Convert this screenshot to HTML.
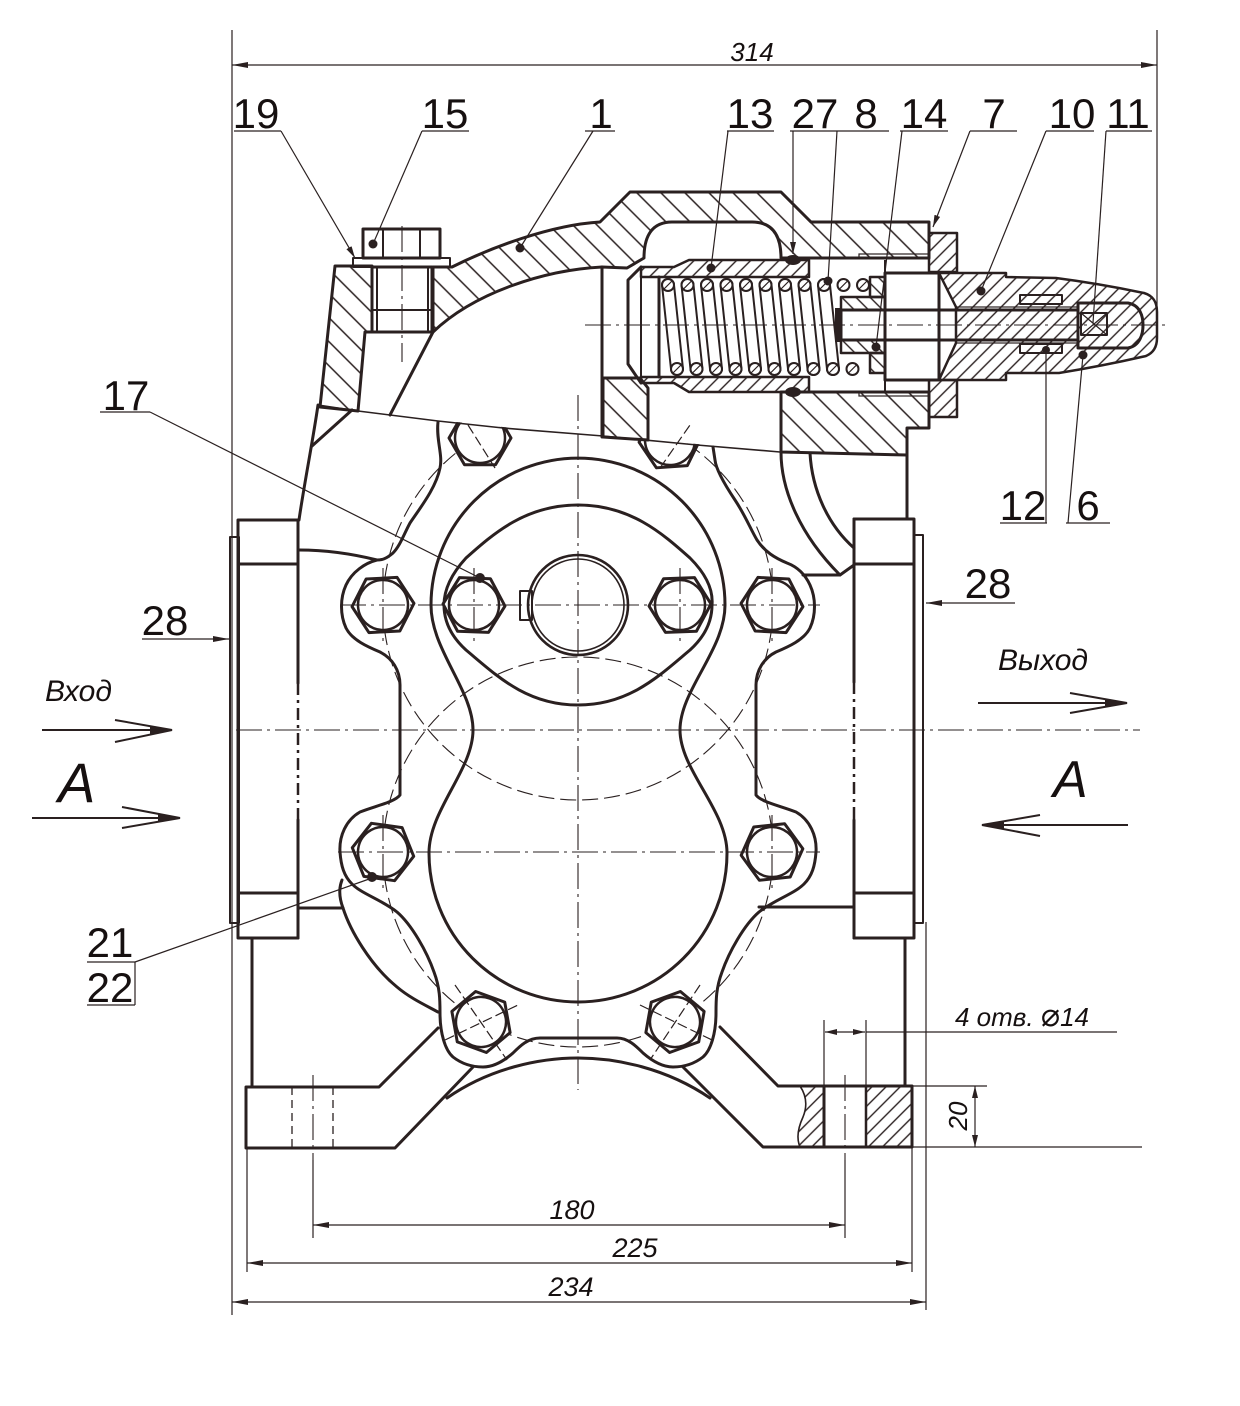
<!DOCTYPE html>
<html><head><meta charset="utf-8">
<style>
html,body{margin:0;padding:0;background:#fff;width:1240px;height:1406px;overflow:hidden}
svg{display:block}
.t{font-family:"Liberation Sans","DejaVu Sans",sans-serif;fill:#161010}
.i{font-style:italic}
.k{stroke:#2a2020;stroke-width:3;fill:none;stroke-linejoin:round;stroke-linecap:round}
.m{stroke:#2a2020;stroke-width:2;fill:none;stroke-linejoin:round}
.n{stroke:#2a2020;stroke-width:1.2;fill:none}
.c{stroke:#2a2020;stroke-width:1.1;fill:none;stroke-dasharray:26 5 3 5}
.d{stroke:#2a2020;stroke-width:1.1;fill:none;stroke-dasharray:16 6}
.hb{fill:url(#hb);stroke:#2a2020;stroke-width:3;stroke-linejoin:round}
.hs{fill:url(#hs);stroke:#2a2020;stroke-width:2.5;stroke-linejoin:round}
.hs2{fill:url(#hs2);stroke:#2a2020;stroke-width:2.5;stroke-linejoin:round}
.dot{fill:#2a2020}
</style></head><body>
<svg width="1240" height="1406" viewBox="0 0 1240 1406" xmlns="http://www.w3.org/2000/svg">
<defs>
 <pattern id="hb" width="17" height="17" patternUnits="userSpaceOnUse" patternTransform="rotate(-45)"><line x1="8" y1="-2" x2="8" y2="19" stroke="#2a2020" stroke-width="1.5"/></pattern>
 <pattern id="hs" width="10" height="10" patternUnits="userSpaceOnUse" patternTransform="rotate(45)"><line x1="5" y1="-2" x2="5" y2="12" stroke="#2a2020" stroke-width="1.4"/></pattern>
 <pattern id="hs2" width="10" height="10" patternUnits="userSpaceOnUse" patternTransform="rotate(-45)"><line x1="5" y1="-2" x2="5" y2="12" stroke="#2a2020" stroke-width="1.4"/></pattern>
 <marker id="ar" viewBox="0 0 16 6" refX="16" refY="3" markerWidth="16" markerHeight="6" orient="auto-start-reverse" markerUnits="userSpaceOnUse"><path d="M0,0 L16,3 L0,6 Z" fill="#2a2020"/></marker>
 <marker id="ar2" viewBox="0 0 12 6" refX="12" refY="3" markerWidth="12" markerHeight="6" orient="auto-start-reverse" markerUnits="userSpaceOnUse"><path d="M0,0 L12,3 L0,6 Z" fill="#2a2020"/></marker>
 <clipPath id="belowcut"><path d="M200,404 L318,404 L358,410 L438,420 L503,427 L603,435 L697,444 L780,451 L907,454 L1240,454 L1240,1406 L200,1406 Z"/></clipPath>
 <g id="bolt"><polygon points="31,0 15.5,26.8 -15.5,26.8 -31,0 -15.5,-26.8 15.5,-26.8" fill="#fff" stroke="#2a2020" stroke-width="3" stroke-linejoin="round"/><circle r="25" fill="none" stroke="#2a2020" stroke-width="2.5"/></g>
 <path id="coil" d="M-6,0 L3,84 A6,6 0 0 0 15,84 L6,0 A6,6 0 0 0 -6,0 Z" fill="none" stroke="#2a2020" stroke-width="2"/>
 <g id="wire"><circle r="6" fill="#fff" stroke="#2a2020" stroke-width="2"/><line x1="-4" y1="4" x2="4" y2="-4" stroke="#2a2020" stroke-width="1.2"/></g>
</defs>

<!-- ===== Dimension / extension lines ===== -->
<line x1="232" y1="30" x2="232" y2="1315" class="n"/>
<line x1="1157" y1="30" x2="1157" y2="330" class="n"/>
<line x1="232" y1="65" x2="1157" y2="65" class="n" marker-start="url(#ar)" marker-end="url(#ar)"/>
<text x="752" y="61" class="t i" font-size="26" text-anchor="middle">314</text>

<line x1="313" y1="1160" x2="313" y2="1238" class="n"/>
<line x1="845" y1="1160" x2="845" y2="1238" class="n"/>
<line x1="313" y1="1225" x2="845" y2="1225" class="n" marker-start="url(#ar)" marker-end="url(#ar)"/>
<text x="572" y="1219" class="t i" font-size="27" text-anchor="middle">180</text>
<line x1="247" y1="1148" x2="247" y2="1272" class="n"/>
<line x1="912" y1="1147" x2="912" y2="1272" class="n"/>
<line x1="247" y1="1263" x2="912" y2="1263" class="n" marker-start="url(#ar)" marker-end="url(#ar)"/>
<text x="635" y="1257" class="t i" font-size="27" text-anchor="middle">225</text>
<line x1="926" y1="922" x2="926" y2="1310" class="n"/>
<line x1="232" y1="1302" x2="926" y2="1302" class="n" marker-start="url(#ar)" marker-end="url(#ar)"/>
<text x="571" y="1296" class="t i" font-size="27" text-anchor="middle">234</text>

<!-- 20 dim -->
<line x1="912" y1="1086" x2="987" y2="1086" class="n"/>
<line x1="912" y1="1147" x2="1142" y2="1147" class="n"/>
<line x1="975" y1="1086" x2="975" y2="1147" class="n" marker-start="url(#ar2)" marker-end="url(#ar2)"/>
<text x="0" y="0" class="t i" font-size="26" text-anchor="middle" transform="translate(967,1116) rotate(-90)">20</text>
<!-- 4 holes dim -->
<line x1="824" y1="1020" x2="824" y2="1086" class="n"/>
<line x1="866" y1="1020" x2="866" y2="1086" class="n"/>
<line x1="825" y1="1032" x2="865" y2="1032" class="n" marker-start="url(#ar2)" marker-end="url(#ar2)"/>
<line x1="866" y1="1032" x2="1117" y2="1032" class="n"/>
<text x="955" y="1026" class="t i" font-size="26">4 отв.  <tspan font-size="32" font-family="DejaVu Sans, sans-serif" font-style="normal">⌀</tspan>14</text>

<!-- ===== Flanges ===== -->
<rect x="230" y="537" width="9" height="386" class="m"/>
<path d="M298,520 L238,520 L238,938 L298,938" class="k"/>
<line x1="238" y1="564" x2="298" y2="564" class="k"/>
<line x1="238" y1="893" x2="298" y2="893" class="k"/>
<line x1="298" y1="520" x2="298" y2="683" class="k"/>
<line x1="298" y1="683" x2="298" y2="820" stroke="#2a2020" stroke-width="2.5" stroke-dasharray="12 5 3 5"/>
<line x1="298" y1="820" x2="298" y2="938" class="k"/>

<rect x="914" y="535" width="9" height="388" class="m"/>
<path d="M854,519 L914,519 L914,938 L854,938" class="k"/>
<line x1="854" y1="564" x2="914" y2="564" class="k"/>
<line x1="854" y1="893" x2="914" y2="893" class="k"/>
<line x1="854" y1="519" x2="854" y2="682" class="k"/>
<line x1="854" y1="682" x2="854" y2="820" stroke="#2a2020" stroke-width="2.5" stroke-dasharray="12 5 3 5"/>
<line x1="854" y1="820" x2="854" y2="938" class="k"/>

<!-- ===== Lower body / feet ===== -->
<line x1="252" y1="938" x2="252" y2="1087" class="k"/>
<line x1="905" y1="938" x2="905" y2="1086" class="k"/>
<path d="M438,1028 L379,1087 L246,1087 L246,1148 L395,1148 L473,1067" class="k"/>
<path d="M447,1098 C490,1068 540,1058 578,1058 C616,1058 666,1068 710,1098" class="k"/>
<path d="M720,1027 L778,1086 L912,1086 L912,1147 L763,1147 L683,1067" class="k"/>
<path d="M800,1086 C806,1095 808,1105 803,1117 C797,1130 797,1140 800,1147 L824,1147 L824,1086 Z" fill="url(#hs)" stroke="#2a2020" stroke-width="1.6"/>
<line x1="824" y1="1086" x2="824" y2="1147" class="k"/>
<rect x="866" y="1086" width="46" height="61" class="hs" stroke-width="3"/>
<line x1="292" y1="1087" x2="292" y2="1148" stroke="#2a2020" stroke-width="1.3" stroke-dasharray="8 5"/>
<line x1="333" y1="1087" x2="333" y2="1148" stroke="#2a2020" stroke-width="1.3" stroke-dasharray="8 5"/>
<line x1="313" y1="1075" x2="313" y2="1160" class="c"/>
<line x1="845" y1="1075" x2="845" y2="1160" class="c"/>

<!-- ===== Body outer lines below cut ===== -->
<path d="M318,405 C313,440 304,485 299,520" class="k"/>
<path d="M312,446 L352,410" class="k"/>
<path d="M299,550 C320,550 345,552 377,560" class="k"/>
<path d="M299,908 L343,908" class="k"/>
<path d="M759,907 L854,907" class="k"/>
<path d="M803,575 L840,575 L854,565" class="k"/>
<path d="M781,452 C781,490 800,535 840,575" class="k"/>
<path d="M810,453 C812,490 828,525 854,548" class="k"/>
<path d="M907,455 L907,519" class="k"/>
<path d="M342,880 C338,890 340,900 343,908 C350,930 370,965 397,987 C410,998 425,1005 438,1012" class="k"/>

<!-- cover outline -->
<path d="M438,422 C436,440 443,455 440,468 C436,488 420,508 410,523 C404,534 400,546 393,553 C386,559 382,560 377,560 C365,563 352,572 346,585 C340,598 340,615 346,628 C352,640 368,647 380,652 C392,658 400,670 400,685 L400,795 C395,802 375,806 360,812 C346,820 339,836 340,852 C341,866 344,876 352,884 C362,894 382,900 397,912 C412,925 427,952 434,972 C440,988 440,1000 440,1013 C440,1033 445,1050 453,1057 C462,1064 472,1067 483,1067 C495,1067 505,1060 513,1053 C520,1046 528,1038 540,1038 L617,1038 C628,1038 636,1046 643,1053 C651,1060 661,1067 673,1067 C684,1067 694,1064 703,1057 C711,1050 716,1033 716,1013 C716,1000 716,988 722,972 C729,952 744,925 759,912 C774,900 794,894 804,884 C812,876 815,866 816,852 C817,836 810,820 796,812 C781,806 761,802 756,795 L756,685 C756,670 764,658 776,652 C788,647 804,640 810,628 C816,615 816,598 810,585 C804,572 795,566 787,563 C775,558 765,552 757,540 C750,528 745,515 735,500 C725,485 716,470 715,460 L713,447" class="k"/>

<!-- bolt circles -->
<g clip-path="url(#belowcut)">
<circle cx="578" cy="605" r="195" class="d"/>
<circle cx="578" cy="852" r="195" class="d"/>
</g>

<!-- figure-8 cavity -->
<path d="M431,605 A147,147 0 0 1 725,605 C725,650 680,690 680,730 C680,770 727,810 727,853 A149,149 0 0 1 429,853 C429,810 473,770 473,730 C473,690 431,650 431,605 Z" class="k"/>
<!-- plate 17 lens -->
<path d="M578,505 C630,505 662,533 690,558 Q714,582 712,605 Q712,630 690,650 C660,675 630,705 578,705 C526,705 496,675 466,650 Q444,630 444,605 Q444,582 466,558 C494,533 526,505 578,505 Z" class="k"/>
<!-- shaft -->
<rect x="520" y="591" width="12" height="29" fill="#fff" class="m"/>
<circle cx="578" cy="605" r="50" fill="none" stroke="#2a2020" stroke-width="2.6"/>
<circle cx="578" cy="605" r="46" fill="none" stroke="#2a2020" stroke-width="1.6"/>

<!-- bolts -->
<use href="#bolt" transform="translate(383,605) rotate(-3)"/>
<use href="#bolt" transform="translate(474,605) rotate(2)"/>
<use href="#bolt" transform="translate(680,605) rotate(-2)"/>
<use href="#bolt" transform="translate(772,605) rotate(3)"/>
<use href="#bolt" transform="translate(383,852) rotate(8)"/>
<use href="#bolt" transform="translate(772,852) rotate(-6)"/>
<use href="#bolt" transform="translate(481,1022) rotate(20)"/>
<use href="#bolt" transform="translate(675,1022) rotate(-20)"/>
<g clip-path="url(#belowcut)">
<use href="#bolt" transform="translate(480,438) rotate(0)"/>
<use href="#bolt" transform="translate(670,440) rotate(-4)"/>
</g>

<!-- centre lines -->
<line x1="578" y1="395" x2="578" y2="1090" class="c"/>
<line x1="340" y1="605" x2="820" y2="605" class="c"/>
<line x1="236" y1="730" x2="1140" y2="730" class="c"/>
<line x1="338" y1="852" x2="820" y2="852" class="c"/>
<line x1="383" y1="568" x2="383" y2="642" class="c"/>
<line x1="474" y1="568" x2="474" y2="642" class="c"/>
<line x1="680" y1="568" x2="680" y2="642" class="c"/>
<line x1="772" y1="568" x2="772" y2="642" class="c"/>
<line x1="383" y1="815" x2="383" y2="890" class="c"/>
<line x1="772" y1="815" x2="772" y2="890" class="c"/>
<line x1="455" y1="985" x2="507" y2="1060" class="n" stroke-dasharray="10 4"/>
<line x1="445" y1="1040" x2="518" y2="1005" class="n" stroke-dasharray="10 4"/>
<line x1="700" y1="985" x2="650" y2="1060" class="n" stroke-dasharray="10 4"/>
<line x1="640" y1="1005" x2="712" y2="1040" class="n" stroke-dasharray="10 4"/>
<line x1="468" y1="425" x2="495" y2="468" class="n" stroke-dasharray="10 4"/>
<line x1="660" y1="468" x2="690" y2="425" class="n" stroke-dasharray="10 4"/>

<!-- ===== Upper section ===== -->
<path d="M318,405 L358,411 L438,421 L503,428 L603,436 L697,445 L780,452 L907,455" stroke="#2a2020" stroke-width="1.6" fill="none"/>
<!-- body 1 hatched -->
<path d="M335,266 L372,266 L372,332 L365,332 L358,411 L320,407 Z" class="hb"/>
<path d="M433,332 L433,267 L452,267 C490,248 550,225 600,222 L630,192 L781,192 L811,222 L929,222 L929,258 L781,258 C781,235 772,222 752,222 L672,222 C652,222 644,236 644,258 L627,268 L602,267 C545,270 475,292 433,332 Z" class="hb"/>
<path d="M603,378 L640,378 L648,388 L648,440 L603,437 Z" class="hb"/>
<path d="M781,392 L929,392 L929,428 L907,428 L907,455 L781,452 Z" class="hb"/>
<line x1="602" y1="267" x2="602" y2="437" class="k"/>
<line x1="433" y1="332" x2="390" y2="415" class="k"/>
<rect x="859" y="254" width="70" height="4" class="n"/>
<rect x="859" y="392" width="70" height="4" class="n"/>

<!-- plug 15 + washer 19 -->
<rect x="353" y="258" width="97" height="9" fill="#fff" class="m"/>
<rect x="363" y="229" width="77" height="29" fill="#fff" class="k"/>
<line x1="383" y1="229" x2="383" y2="258" class="m"/>
<line x1="420" y1="229" x2="420" y2="258" class="m"/>
<rect x="372" y="267" width="60" height="65" fill="#fff" class="k"/>
<line x1="377" y1="267" x2="377" y2="332" class="m"/>
<line x1="428" y1="267" x2="428" y2="332" class="m"/>
<line x1="372" y1="310" x2="432" y2="310" class="m"/>
<line x1="402" y1="226" x2="402" y2="362" class="c"/>

<!-- sleeve 13 -->
<path d="M641,267 L674,267 L689,260 L809,260 L809,277 L641,277 Z" class="hs"/>
<path d="M641,383 L674,383 L689,392 L809,392 L809,377 L641,377 Z" class="hs"/>
<path d="M641,267 L628,280 L628,364 L641,383" class="k"/>
<line x1="641" y1="277" x2="641" y2="377" class="m"/>
<line x1="659" y1="277" x2="659" y2="377" class="k"/>
<ellipse cx="793" cy="260" rx="8" ry="5" class="dot"/>
<ellipse cx="793" cy="392" rx="8" ry="5" class="dot"/>

<!-- nut block -->
<rect x="885" y="273" width="54" height="107" fill="#fff" class="k"/>
<line x1="885" y1="260" x2="885" y2="392" class="m"/>
<!-- part 7 -->
<rect x="929" y="233" width="28" height="39" class="hs" stroke-width="3"/>
<rect x="929" y="380" width="28" height="37" class="hs" stroke-width="3"/>
<!-- part 10 -->
<path d="M939,273 L1006,273 L1006,277 L1056,278 C1095,283 1125,289 1144,293 C1154,296 1157,303 1157,312 L1157,338 C1157,347 1153,353 1146,356 C1120,362 1090,368 1059,373 L1006,373 L1006,380 L939,380 L956,343 L956,307 Z" class="hs" stroke-width="3"/>
<rect x="956" y="307" width="122" height="36" fill="#fff" class="n"/>
<path d="M1078,303 L1128,303 C1140,305 1143,316 1143,325 C1143,334 1140,346 1128,348 L1078,348 Z" fill="#fff" class="k"/>
<rect x="1020" y="295" width="42" height="9" fill="#fff" class="m"/>
<rect x="1020" y="344" width="42" height="9" fill="#fff" class="m"/>
<!-- piston 14 -->
<rect x="841" y="297" width="44" height="13" class="hs2"/>
<rect x="841" y="340" width="44" height="13" class="hs2"/>
<rect x="870" y="277" width="15" height="20" class="hs2"/>
<rect x="870" y="353" width="15" height="20" class="hs2"/>
<!-- stem 11 -->
<rect x="841" y="310" width="237" height="30" fill="#fff" class="k"/>
<rect x="835" y="308" width="7" height="34" class="dot"/>
<rect x="1081" y="313" width="26" height="22" fill="#fff" class="m"/>
<path d="M1081,313 L1107,335 M1107,313 L1081,335" class="n"/>

<!-- spring -->
<use href="#coil" x="668" y="285"/>
<use href="#coil" x="687.5" y="285"/>
<use href="#coil" x="707" y="285"/>
<use href="#coil" x="726.5" y="285"/>
<use href="#coil" x="746" y="285"/>
<use href="#coil" x="765.5" y="285"/>
<use href="#coil" x="785" y="285"/>
<use href="#coil" x="804.5" y="285"/>
<use href="#coil" x="824" y="285"/>
<use href="#wire" x="668" y="285"/><use href="#wire" x="687.5" y="285"/><use href="#wire" x="707" y="285"/>
<use href="#wire" x="726.5" y="285"/><use href="#wire" x="746" y="285"/><use href="#wire" x="765.5" y="285"/>
<use href="#wire" x="785" y="285"/><use href="#wire" x="804.5" y="285"/><use href="#wire" x="824" y="285"/>
<use href="#wire" x="843.5" y="285"/><use href="#wire" x="863" y="285"/>
<use href="#wire" x="677" y="369"/><use href="#wire" x="696.5" y="369"/><use href="#wire" x="716" y="369"/>
<use href="#wire" x="735.5" y="369"/><use href="#wire" x="755" y="369"/><use href="#wire" x="774.5" y="369"/>
<use href="#wire" x="794" y="369"/><use href="#wire" x="813.5" y="369"/><use href="#wire" x="833" y="369"/>
<use href="#wire" x="852.5" y="369"/>

<line x1="585" y1="325" x2="1165" y2="325" class="c"/>

<!-- ===== Labels ===== -->
<g class="t" font-size="42" text-anchor="middle">
<text x="256" y="128">19</text>
<text x="445" y="128">15</text>
<text x="601" y="128">1</text>
<text x="750" y="128">13</text>
<text x="815" y="128">27</text>
<text x="866" y="128">8</text>
<text x="924" y="128">14</text>
<text x="994" y="128">7</text>
<text x="1072" y="128">10</text>
<text x="1128" y="128">11</text>
<text x="1023" y="520">12</text>
<text x="1088" y="520">6</text>
<text x="126" y="410">17</text>
<text x="165" y="635">28</text>
<text x="988" y="598">28</text>
<text x="110" y="957">21</text>
<text x="110" y="1002">22</text>
</g>
<g class="n" stroke-width="1.3">
<line x1="234" y1="131" x2="281" y2="131"/>
<line x1="422" y1="131" x2="469" y2="131"/>
<line x1="585" y1="131" x2="615" y2="131"/>
<line x1="727" y1="131" x2="774" y2="131"/>
<line x1="790" y1="131" x2="889" y2="131"/>
<line x1="900" y1="131" x2="948" y2="131"/>
<line x1="970" y1="131" x2="1017" y2="131"/>
<line x1="1046" y1="131" x2="1094" y2="131"/>
<line x1="1106" y1="131" x2="1152" y2="131"/>
<line x1="1000" y1="523" x2="1047" y2="523"/>
<line x1="1066" y1="523" x2="1110" y2="523"/>
<line x1="100" y1="412" x2="150" y2="412"/>
<line x1="87" y1="962" x2="135" y2="962"/>
<line x1="135" y1="962" x2="135" y2="1005"/>
<line x1="87" y1="1005" x2="135" y2="1005"/>
<!-- leaders -->
<line x1="281" y1="131" x2="355" y2="258" marker-end="url(#ar2)"/>
<line x1="422" y1="131" x2="373" y2="244"/>
<line x1="593" y1="131" x2="520" y2="248"/>
<line x1="728" y1="131" x2="711" y2="268"/>
<line x1="793" y1="131" x2="793" y2="254" marker-end="url(#ar2)"/>
<line x1="837" y1="131" x2="828" y2="281"/>
<line x1="902" y1="131" x2="876" y2="347"/>
<line x1="970" y1="131" x2="933" y2="227" marker-end="url(#ar2)"/>
<line x1="1046" y1="131" x2="981" y2="291"/>
<line x1="1106" y1="131" x2="1093" y2="323"/>
<line x1="1046" y1="523" x2="1046" y2="350"/>
<line x1="1068" y1="523" x2="1083" y2="355"/>
<line x1="150" y1="412" x2="480" y2="578"/>
<line x1="135" y1="962" x2="372" y2="878"/>
<line x1="142" y1="639" x2="229" y2="639" marker-end="url(#ar)"/>
<line x1="1015" y1="603" x2="926" y2="603" marker-end="url(#ar)"/>
</g>
<g class="dot">
<circle cx="373" cy="244" r="4.5"/>
<circle cx="520" cy="248" r="4.5"/>
<circle cx="711" cy="268" r="4.5"/>
<circle cx="828" cy="281" r="4.5"/>
<circle cx="876" cy="347" r="4.5"/>
<circle cx="981" cy="291" r="4.5"/>
<circle cx="1046" cy="350" r="4"/>
<circle cx="1083" cy="355" r="4.5"/>
<circle cx="480" cy="578" r="5"/>
<circle cx="372" cy="877" r="5"/>
</g>

<!-- ===== Flow arrows ===== -->
<text x="45" y="701" class="t i" font-size="30">Вход</text>
<g stroke="#2a2020" stroke-width="2" fill="none">
<line x1="42" y1="730" x2="172" y2="730"/>
<polyline points="115,720 172,730 115,742"/>
<line x1="32" y1="818" x2="180" y2="818"/>
<polyline points="122,807 180,818 122,828"/>
<line x1="978" y1="703" x2="1127" y2="703"/>
<polyline points="1070,693 1127,703 1070,713"/>
<line x1="982" y1="825" x2="1128" y2="825"/>
<polyline points="1040,815 982,825 1040,836"/>
</g>
<path d="M150,726 L172,730 L150,734 Z" class="dot"/>
<path d="M158,814 L180,818 L158,822 Z" class="dot"/>
<path d="M1105,699 L1127,703 L1105,707 Z" class="dot"/>
<path d="M1004,821 L982,825 L1004,829 Z" class="dot"/>
<text x="58" y="802" class="t i" font-size="56">A</text>
<text x="998" y="670" class="t i" font-size="30">Выход</text>
<text x="1053" y="797" class="t i" font-size="52">A</text>
</svg>
</body></html>
